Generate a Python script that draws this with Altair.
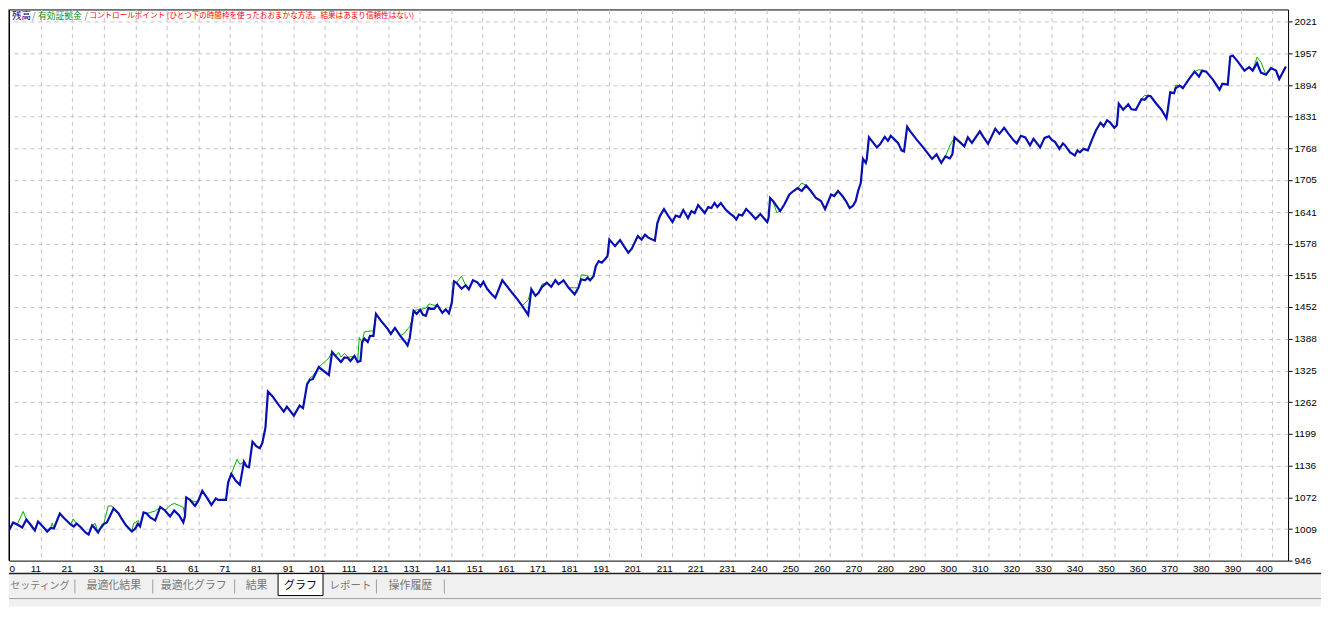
import json
import altair as alt
import pandas as pd

# ---------------- data ----------------
BAL_T = [0.0, 1.3, 2.6, 4.2, 5.5, 6.9, 8.2, 9.2, 11.0, 12.1, 13.2, 14.2, 16.1, 17.4, 19.5, 20.5, 21.4, 22.8,
         24.2, 25.2, 26.3, 27.0, 28.2, 28.9, 30.0, 31.0, 33.1, 34.7, 35.7, 37.1, 38.9, 40.0, 40.8, 41.5, 42.6,
         43.6, 44.7, 46.3, 47.9, 49.4, 51.0, 52.3, 53.9, 55.2, 55.7, 56.1, 57.3, 58.9, 59.9, 61.2, 62.6, 64.1,
         65.5, 66.2, 68.7, 69.4, 70.4, 71.8, 73.1, 74.4, 75.2, 76.0, 77.1, 78.3, 79.4, 80.2, 81.2, 82.0, 83.4,
         85.2, 87.0, 88.0, 90.2, 92.0, 93.1, 94.4, 95.2, 96.2, 98.1, 99.9, 101.3, 102.3, 103.4, 105.1, 106.2,
         107.3, 108.1, 109.4, 110.4, 111.3, 111.8, 112.5, 113.6, 114.3, 115.4, 116.2, 117.8, 119.9, 120.9,
         122.2, 123.9, 125.3, 126.2, 126.9, 127.4, 128.1, 129.1, 130.2, 131.1, 132.0, 132.8, 133.5, 134.6,
         135.6, 137.2, 138.3, 139.3, 140.2, 140.9, 141.7, 143.3, 144.6, 145.6, 146.9, 148.3, 149.3, 150.2,
         151.4, 152.7, 154.0, 156.2, 157.7, 159.3, 161.0, 162.5, 164.4, 165.4, 166.7, 167.7, 168.8, 170.3,
         171.7, 173.0, 174.0, 175.6, 177.2, 179.1, 180.3, 181.2, 182.4, 183.2, 184.0, 185.1, 185.8, 186.7,
         187.7, 188.7, 189.5, 190.1, 191.9, 193.5, 194.7, 196.1, 197.2, 199.1, 200.3, 201.4, 202.4, 204.5,
         205.3, 206.1, 207.4, 208.7, 210.1, 211.1, 212.4, 213.5, 215.0, 216.1, 217.1, 218.2, 220.3, 221.4,
         222.4, 223.4, 224.3, 225.4, 226.9, 228.5, 229.4, 230.3, 231.1, 232.2, 233.4, 235.0, 236.4, 237.9,
         238.7, 240.1, 240.5, 241.0, 241.9, 243.1, 244.2, 245.5, 247.1, 248.4, 249.7, 251.0, 252.4, 253.9,
         255.5, 257.1, 258.4, 260.3, 261.3, 262.5, 263.9, 265.0, 266.2, 267.3, 268.1, 268.9, 269.7, 270.4,
         271.3, 271.6, 272.3, 273.7, 274.8, 275.8, 277.3, 278.3, 279.2, 280.5, 281.5, 282.6, 283.4, 284.4,
         285.5, 287.6, 289.2, 290.8, 292.3, 293.7, 295.2, 296.5, 297.9, 298.7, 299.4, 301.0, 302.5, 303.6,
         304.9, 307.4, 308.6, 310.0, 312.3, 313.6, 315.1, 316.5, 318.1, 319.1, 320.4, 321.8, 323.3, 324.4,
         326.5, 327.9, 329.3, 330.2, 331.2, 332.6, 333.7, 334.4, 336.0, 337.5, 338.3, 339.1, 340.2, 341.6,
         342.9, 344.2, 345.6, 346.6, 347.7, 348.6, 350.0, 350.8, 351.4, 352.8, 354.4, 355.4, 356.8, 358.6,
         359.6, 360.7, 361.5, 363.3, 364.9, 366.5, 367.0, 367.7, 368.9, 369.4, 370.7, 371.7, 373.5, 375.4,
         376.8, 377.8, 379.1, 381.2, 383.3, 384.2, 385.9, 386.7, 387.5, 389.1, 391.2, 392.7, 393.8, 395.2,
         396.4, 398.0, 399.6, 401.2, 402.2, 404.3]
BAL_V = [1006, 1022, 1018, 1012, 1028, 1017, 1006, 1024, 1012, 1004, 1011, 1010, 1040, 1031, 1018, 1014, 1020, 1012,
         1002, 998, 1016, 1012, 1002, 1010, 1019, 1022, 1050, 1040, 1029, 1016, 1004, 1010, 1019, 1014, 1042,
         1040, 1032, 1026, 1053, 1046, 1034, 1046, 1036, 1022, 1034, 1072, 1067, 1055, 1065, 1085, 1072, 1057,
         1070, 1067, 1067, 1102, 1119, 1105, 1097, 1143, 1134, 1132, 1183, 1174, 1170, 1180, 1211, 1283, 1274,
         1258, 1243, 1253, 1235, 1255, 1250, 1298, 1306, 1308, 1332, 1323, 1316, 1362, 1354, 1342, 1351,
         1350, 1344, 1354, 1342, 1344, 1381, 1389, 1382, 1394, 1394, 1438, 1424, 1408, 1398,
         1410, 1394, 1383, 1375, 1390, 1414, 1444, 1438, 1446, 1436, 1434, 1450, 1448, 1448,
         1456, 1440, 1447, 1439, 1460, 1503, 1500, 1488, 1495, 1487, 1505, 1501, 1493, 1502,
         1488, 1478, 1470, 1505, 1493, 1480, 1467, 1454, 1436, 1487, 1474, 1480, 1492, 1500,
         1492, 1505, 1497, 1505, 1490, 1477, 1490, 1507, 1505, 1510, 1505, 1513, 1533, 1543,
         1540, 1547, 1553, 1586, 1573, 1585, 1573, 1560, 1568, 1593, 1586, 1596, 1590, 1584,
         1619, 1633, 1647, 1634, 1621, 1634, 1631, 1645, 1629, 1643, 1639, 1655, 1639, 1651,
         1649, 1659, 1651, 1659, 1646, 1637, 1633, 1626, 1636, 1634, 1647, 1637, 1627, 1637,
         1631, 1621, 1629, 1669, 1663, 1653, 1643, 1656, 1676, 1683, 1689, 1683, 1694, 1683,
         1669, 1663, 1647, 1676, 1673, 1683, 1673, 1663, 1649, 1654, 1663, 1684, 1699, 1747,
         1739, 1746, 1790, 1779, 1770, 1776, 1791, 1783, 1793, 1785, 1779, 1764, 1762, 1811,
         1801, 1784, 1772, 1759, 1747, 1756, 1739, 1752, 1748, 1756, 1790, 1781, 1772, 1790,
         1779, 1802, 1790, 1777, 1807, 1797, 1809, 1797, 1784, 1778, 1793, 1790, 1774, 1787,
         1770, 1789, 1792, 1785, 1781, 1767, 1778, 1774, 1760, 1754, 1764, 1760, 1767, 1764,
         1785, 1804, 1819, 1812, 1824, 1820, 1809, 1814, 1857, 1845, 1856, 1846, 1845, 1866,
         1865, 1873, 1872, 1857, 1845, 1828, 1848, 1880, 1878, 1888, 1893, 1888, 1905, 1921,
         1911, 1923, 1921, 1905, 1885, 1897, 1895, 1951, 1953, 1941, 1923, 1930, 1923, 1938,
         1919, 1915, 1928, 1923, 1906, 1931]

# equity points where the green curve leaves the balance curve
EQ_T = [4.5, 13.7, 20.3, 27.3, 29.5, 31.4, 32.6, 39.5, 40.0, 41.0, 44.7, 46.3, 51.0, 52.3, 53.9, 55.2, 58.9,
        72.2, 73.1, 95.2, 96.2, 99.9, 101.3, 104.4, 105.1, 106.2, 107.3, 108.1, 110.9, 112.5, 113.6, 114.3,
        115.4, 125.3, 126.2, 126.9, 127.4, 129.1, 130.2, 131.1, 132.0, 133.0, 133.5, 134.6, 143.3, 164.4,
        168.8, 179.1, 181.2, 182.4, 183.2, 243.1, 251.0, 298.0, 298.7, 359.6, 369.4, 376.8, 395.2, 396.4]
EQ_V = [1044, 1021, 1029, 1020, 1019, 1055, 1055, 1021, 1022, 1026, 1042, 1045, 1056, 1060, 1056, 1052, 1063,
        1148, 1138, 1310, 1314, 1342, 1350, 1361, 1352, 1359, 1352, 1352, 1391, 1402, 1403, 1404,
        1404, 1400, 1408, 1412, 1422, 1446, 1447, 1448, 1449, 1458, 1457, 1455, 1513, 1466,
        1497, 1490, 1516, 1515, 1515, 1640, 1699, 1775, 1782, 1874, 1894, 1925, 1950, 1940]

X_TICKS = list(range(0, 401, 10))
X_LABELS = ["0", "11", "21", "31", "41", "51", "61", "71", "81", "91", "101", "111", "121", "131", "141",
            "151", "161", "171", "181", "191", "201", "211", "221", "231", "240", "250", "260", "270", "280",
            "290", "300", "310", "320", "330", "340", "350", "360", "370", "380", "390", "400"]
Y_TICKS = [946, 1009, 1072, 1136, 1199, 1262, 1325, 1388, 1452, 1515, 1578, 1641, 1705, 1768, 1831, 1894,
           1957, 2021]
X_DOMAIN = [0, 405]
Y_DOMAIN = [946, 2045]

LEGEND = ["残高", "/", "有効証拠金", "/", "コントロールポイント (ひとつ下の時間枠を使ったおおまかな方法。結果はあまり信頼性はない)"]
TABS = ["セッティング", "最適化結果", "最適化グラフ", "結果", "グラフ", "レポート", "操作履歴"]

# ---------------- build tables ----------------
bal = pd.DataFrame({"t": BAL_T, "v": BAL_V})
extra = pd.DataFrame({"t": EQ_T, "v": EQ_V})
mask = [min(abs(t - e) for e in EQ_T) >= 0.45 for t in BAL_T]
eq = pd.concat([bal[mask], extra]).sort_values("t").reset_index(drop=True)

W, H = 1281, 552


def grid_opts(edge_value):
    # the grid line lying on the frame is hidden so that the frame stays solid
    return dict(grid=True, gridDash=[4, 4], gridWidth=1, gridColor="#c4c4c4",
                gridOpacity={"condition": {"test": f"datum.value == {edge_value}", "value": 0},
                             "value": 1})


xscale = alt.Scale(domain=X_DOMAIN, nice=False, zero=False)
yscale = alt.Scale(domain=Y_DOMAIN, nice=False, zero=False)

x_axis = alt.Axis(values=X_TICKS, tickCount=100,
                  labelExpr=json.dumps(X_LABELS) + "[round(datum.value / 10)]",
                  ticks=False, domain=False, labelPadding=3,
                  labelAlign={"condition": {"test": "datum.value == 0", "value": "left"}, "value": "right"},
                  labelFont="Liberation Sans", labelFontSize=10, labelColor="black",
                  labelOverlap=False, title=None, **grid_opts(0))
y_axis = alt.Axis(values=Y_TICKS, tickCount=100, format="d", orient="right", tickSize=4,
                  tickColor="black", domain=False,
                  labelPadding=2, labelFont="Liberation Sans", labelFontSize=10, labelColor="black",
                  labelOverlap=False, title=None, **grid_opts(946))

eq_line = alt.Chart(eq).mark_line(color="#00b000", strokeWidth=1, clip=True).encode(
    x=alt.X("t:Q", scale=xscale, axis=x_axis),
    y=alt.Y("v:Q", scale=yscale, axis=y_axis),
)
bal_line = alt.Chart(bal).mark_line(color="#0a10b0", strokeWidth=2.2, clip=True).encode(
    x=alt.X("t:Q", scale=xscale),
    y=alt.Y("v:Q", scale=yscale),
)

one = pd.DataFrame({"d": [0]})


def txt(s, x, y, color, size, align="left", font="Noto Sans CJK JP"):
    return alt.Chart(one).mark_text(text=s, align=align, baseline="middle", color=color,
                                    fontSize=size, font=font).encode(x=alt.value(x), y=alt.value(y))


def rule(x, x2, y, y2, color, width=1):
    return alt.Chart(one).mark_rule(color=color, strokeWidth=width).encode(
        x=alt.value(x), x2=alt.value(x2), y=alt.value(y), y2=alt.value(y2))


# solid left frame edge
left_edge = rule(0, 0, 0, H, "black", 1)

# legend text at top left (page coords minus 8px margin)
legend = [
    txt(LEGEND[0], 3, 7, "#00008c", 9.5),
    txt(LEGEND[1], 23, 7, "#507090", 9),
    txt(LEGEND[2], 29, 7, "#009600", 8.8),
    txt(LEGEND[3], 75.5, 7, "#a06040", 9),
    txt(LEGEND[4], 80.5, 7, "#ff0000", 7.6),
]

# window chrome below the chart: tab strip and status bar edge
bg = alt.Chart(one).mark_rect(color="#f0f0f0").encode(
    x=alt.value(0), x2=alt.value(1314), y=alt.value(566), y2=alt.value(598))
topline = rule(0, 1314, 565, 565, "#202020", 1.5)
tab_box = alt.Chart(one).mark_rect(fill="white", stroke="black", strokeWidth=1).encode(
    x=alt.value(269.5), x2=alt.value(314.5), y=alt.value(565), y2=alt.value(587))
status_line = rule(0, 1314, 590, 590, "#a0a0a0", 1)
seps = [rule(x, x, 571, 585, "#a0a0a0") for x in [66, 144, 226, 368, 436]]
tab_centers = [31, 105, 185, 248, 292, 342, 402]
tab_sizes = [10, 11, 11, 11, 11, 10.5, 11]
tabs = [txt(s, c, 577, "black" if s == "グラフ" else "#787878", fs, align="center")
        for s, c, fs in zip(TABS, tab_centers, tab_sizes)]

chart = alt.layer(
    eq_line, bal_line, left_edge, *legend, bg, topline, tab_box, status_line, *seps, *tabs
).properties(
    width=W, height=H, padding=0, background="white"
).configure_view(
    stroke="black", strokeWidth=1
)

chart.save("out.html", embed_options={"renderer": "svg", "actions": False})
